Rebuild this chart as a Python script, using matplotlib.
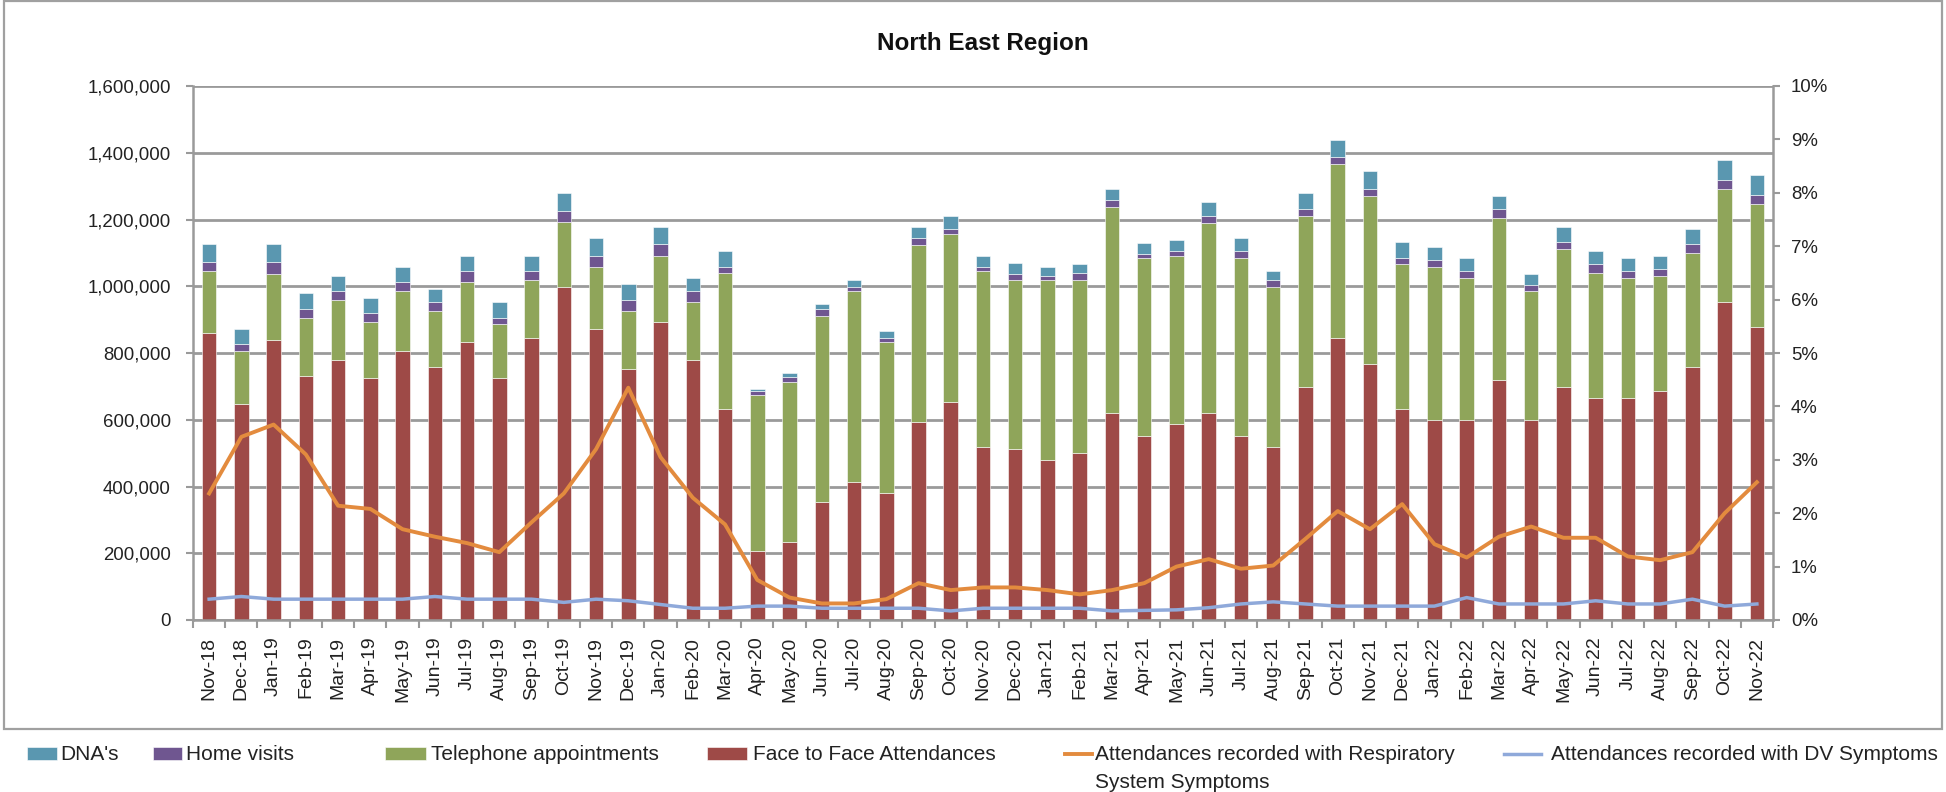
import matplotlib
matplotlib.use("Agg")
import matplotlib.pyplot as plt
from matplotlib.patches import Rectangle
from matplotlib.ticker import FuncFormatter, MultipleLocator, FixedLocator
import numpy as np

months = ["Nov-18", "Dec-18", "Jan-19", "Feb-19", "Mar-19", "Apr-19", "May-19", "Jun-19",
          "Jul-19", "Aug-19", "Sep-19", "Oct-19", "Nov-19", "Dec-19", "Jan-20", "Feb-20",
          "Mar-20", "Apr-20", "May-20", "Jun-20", "Jul-20", "Aug-20", "Sep-20", "Oct-20",
          "Nov-20", "Dec-20", "Jan-21", "Feb-21", "Mar-21", "Apr-21", "May-21", "Jun-21",
          "Jul-21", "Aug-21", "Sep-21", "Oct-21", "Nov-21", "Dec-21", "Jan-22", "Feb-22",
          "Mar-22", "Apr-22", "May-22", "Jun-22", "Jul-22", "Aug-22", "Sep-22", "Oct-22",
          "Nov-22"]

face_to_face = [859000, 646000, 839000, 732000, 779000, 726000, 806000, 759000, 832000, 726000,
                846000, 999000, 872000, 752000, 892000, 779000, 632000, 207000, 233000, 353000,
                413000, 380000, 592000, 652000, 519000, 512000, 479000, 500000, 619000, 552000,
                586000, 619000, 552000, 519000, 699000, 846000, 766000, 632000, 599000, 599000,
                719000, 599000, 699000, 666000, 666000, 686000, 759000, 952000, 879000]

telephone = [187000, 160000, 199000, 174000, 180000, 166000, 180000, 167000, 180000, 160000,
             173000, 193000, 187000, 174000, 200000, 173000, 407000, 467000, 479000, 559000,
             573000, 452000, 533000, 506000, 526000, 506000, 539000, 519000, 619000, 533000,
             505000, 572000, 533000, 479000, 512000, 520000, 505000, 434000, 459000, 426000,
             486000, 386000, 413000, 373000, 360000, 346000, 340000, 340000, 367000]

home_visits = [26000, 20000, 34000, 26000, 27000, 27000, 26000, 26000, 34000, 20000,
               27000, 34000, 33000, 33000, 34000, 34000, 20000, 12000, 17000, 20000,
               13000, 14000, 20000, 13000, 13000, 20000, 13000, 20000, 20000, 13000,
               14000, 20000, 20000, 20000, 20000, 20000, 20000, 20000, 20000, 20000,
               26000, 20000, 20000, 27000, 20000, 20000, 27000, 27000, 26000]

dnas = [54000, 46000, 54000, 47000, 46000, 47000, 47000, 40000, 46000, 46000,
        46000, 53000, 54000, 47000, 53000, 40000, 47000, 6000, 10000, 14000,
        20000, 20000, 33000, 40000, 33000, 33000, 27000, 27000, 33000, 33000,
        33000, 40000, 40000, 27000, 47000, 53000, 54000, 46000, 40000, 40000,
        40000, 33000, 47000, 40000, 40000, 40000, 46000, 60000, 60000]

respiratory_pct = [2.37, 3.43, 3.66, 3.10, 2.14, 2.08, 1.70, 1.56, 1.44, 1.27,
                   1.83, 2.37, 3.20, 4.35, 3.05, 2.29, 1.79, 0.75, 0.42, 0.31,
                   0.31, 0.39, 0.69, 0.56, 0.61, 0.61, 0.56, 0.48, 0.56, 0.69,
                   1.00, 1.14, 0.96, 1.02, 1.52, 2.04, 1.70, 2.17, 1.42, 1.17,
                   1.56, 1.75, 1.54, 1.54, 1.19, 1.12, 1.27, 2.00, 2.58]

dv_pct = [0.39, 0.44, 0.39, 0.39, 0.39, 0.39, 0.39, 0.44, 0.39, 0.39,
          0.39, 0.33, 0.39, 0.36, 0.29, 0.22, 0.22, 0.26, 0.26, 0.22,
          0.22, 0.22, 0.22, 0.17, 0.22, 0.22, 0.22, 0.22, 0.17, 0.18,
          0.19, 0.23, 0.30, 0.34, 0.30, 0.26, 0.26, 0.26, 0.26, 0.42,
          0.30, 0.30, 0.30, 0.36, 0.30, 0.30, 0.39, 0.26, 0.30]

title = "North East Region"
legend_labels = ["DNA's", "Home visits", "Telephone appointments", "Face to Face Attendances",
                 "Attendances recorded with Respiratory", "System Symptoms",
                 "Attendances recorded with DV Symptoms"]

C_F2F = "#9E4A47"
C_TEL = "#8FA55A"
C_HOME = "#6F5690"
C_DNA = "#5A97B0"
C_RESP = "#E38B3E"
C_DV = "#8FA9DA"
GRID = "#9a9a9a"

plt.rcParams["font.family"] = ["Liberation Sans", "DejaVu Sans"]

W, H = 1946, 792
fig = plt.figure(figsize=(W / 100, H / 100), dpi=100)
ax = fig.add_axes([193 / W, 1 - 620 / H, (1773 - 193) / W, (620 - 86) / H])

x = np.arange(len(months))
f2f = np.array(face_to_face)
tel = np.array(telephone)
hv = np.array(home_visits)
dn = np.array(dnas)
bw = 0.45
ekw = dict(edgecolor="white", linewidth=0.4)
b_f2f = ax.bar(x, f2f, bw, color=C_F2F, **ekw, zorder=2)
b_tel = ax.bar(x, tel, bw, bottom=f2f, color=C_TEL, **ekw, zorder=2)
b_hv = ax.bar(x, hv, bw, bottom=f2f + tel, color=C_HOME, **ekw, zorder=2)
b_dn = ax.bar(x, dn, bw, bottom=f2f + tel + hv, color=C_DNA, **ekw, zorder=2)

ax.set_xlim(-0.5, len(months) - 0.5)
ax.set_ylim(0, 1600000)
ax.yaxis.set_major_locator(MultipleLocator(200000))
ax.yaxis.set_major_formatter(FuncFormatter(lambda v, p: f"{v:,.0f}"))
ax.grid(axis="y", color=GRID, linewidth=2, zorder=0)
ax.set_axisbelow(True)
ax.set_xticks(x)
ax.set_xticklabels(months, rotation=90, fontsize=14, color="#222222")
ax.xaxis.set_minor_locator(FixedLocator(np.arange(-0.5, len(months), 1.0)))
ax.tick_params(axis="x", which="major", length=0, pad=12)
ax.tick_params(axis="x", which="minor", length=6, width=1.5, color=GRID)
ax.tick_params(axis="y", length=5, width=1.5, color=GRID, pad=11, labelsize=13.4, labelcolor="#222222")
ax.spines["top"].set_visible(False)
ax.spines["right"].set_visible(False)
for s in ["left", "bottom"]:
    ax.spines[s].set_color(GRID)
    ax.spines[s].set_linewidth(1.8)

ax2 = ax.twinx()
l_resp, = ax2.plot(x, respiratory_pct, color=C_RESP, linewidth=2.8, solid_joinstyle="round", zorder=3)
l_dv, = ax2.plot(x, dv_pct, color=C_DV, linewidth=2.5, solid_joinstyle="round", zorder=3)
ax2.set_ylim(0, 10)
ax2.yaxis.set_major_locator(MultipleLocator(1))
ax2.yaxis.set_major_formatter(FuncFormatter(lambda v, p: f"{v:.0f}%"))
ax2.tick_params(axis="y", length=5, width=1.5, color=GRID, pad=8, labelsize=13.4, labelcolor="#222222")
for s in ["top", "left", "bottom"]:
    ax2.spines[s].set_visible(False)
ax2.spines["right"].set_color(GRID)
ax2.spines["right"].set_linewidth(1.8)

ax.set_title(title, fontsize=17.5, fontweight="bold", pad=26, color="#111111")

# chart border
fig.add_artist(Rectangle((4 / W, 1 - 729 / H), (1942 - 4) / W, (729 - 1) / H,
                         transform=fig.transFigure, fill=False, edgecolor="#a0a0a0", linewidth=1.6))

# legend entries placed individually
fs = 15.0
fpx = fs * 100 / 72
ly = 1 - 755 / H
entries = [
    (b_dn, legend_labels[0], 27, 30, 3),
    (b_hv, legend_labels[1], 153, 29, 4),
    (b_tel, legend_labels[2], 385, 41, 5),
    (b_f2f, legend_labels[3], 707, 40, 6),
    (l_resp, legend_labels[4], 1065, 27, 3),
    (l_dv, legend_labels[6], 1504, 37, 10),
]
resp_leg = None
for h, lab, x0, hl, tp in entries:
    lg = fig.legend([h], [lab], loc="center left", bbox_to_anchor=(x0 / W, ly),
                    frameon=False, borderpad=0, borderaxespad=0, fontsize=fs,
                    handlelength=hl / fpx, handleheight=0.6, handletextpad=tp / fpx,
                    labelcolor="#222222")
    if h is l_resp:
        resp_leg = lg

fig.canvas.draw()
tx0 = resp_leg.get_texts()[0].get_window_extent().x0
fig.text(tx0 / W, 1 - 783 / H, legend_labels[5], fontsize=fs, color="#222222",
         ha="left", va="center")

fig.savefig("out.png", dpi=100, facecolor="white")
